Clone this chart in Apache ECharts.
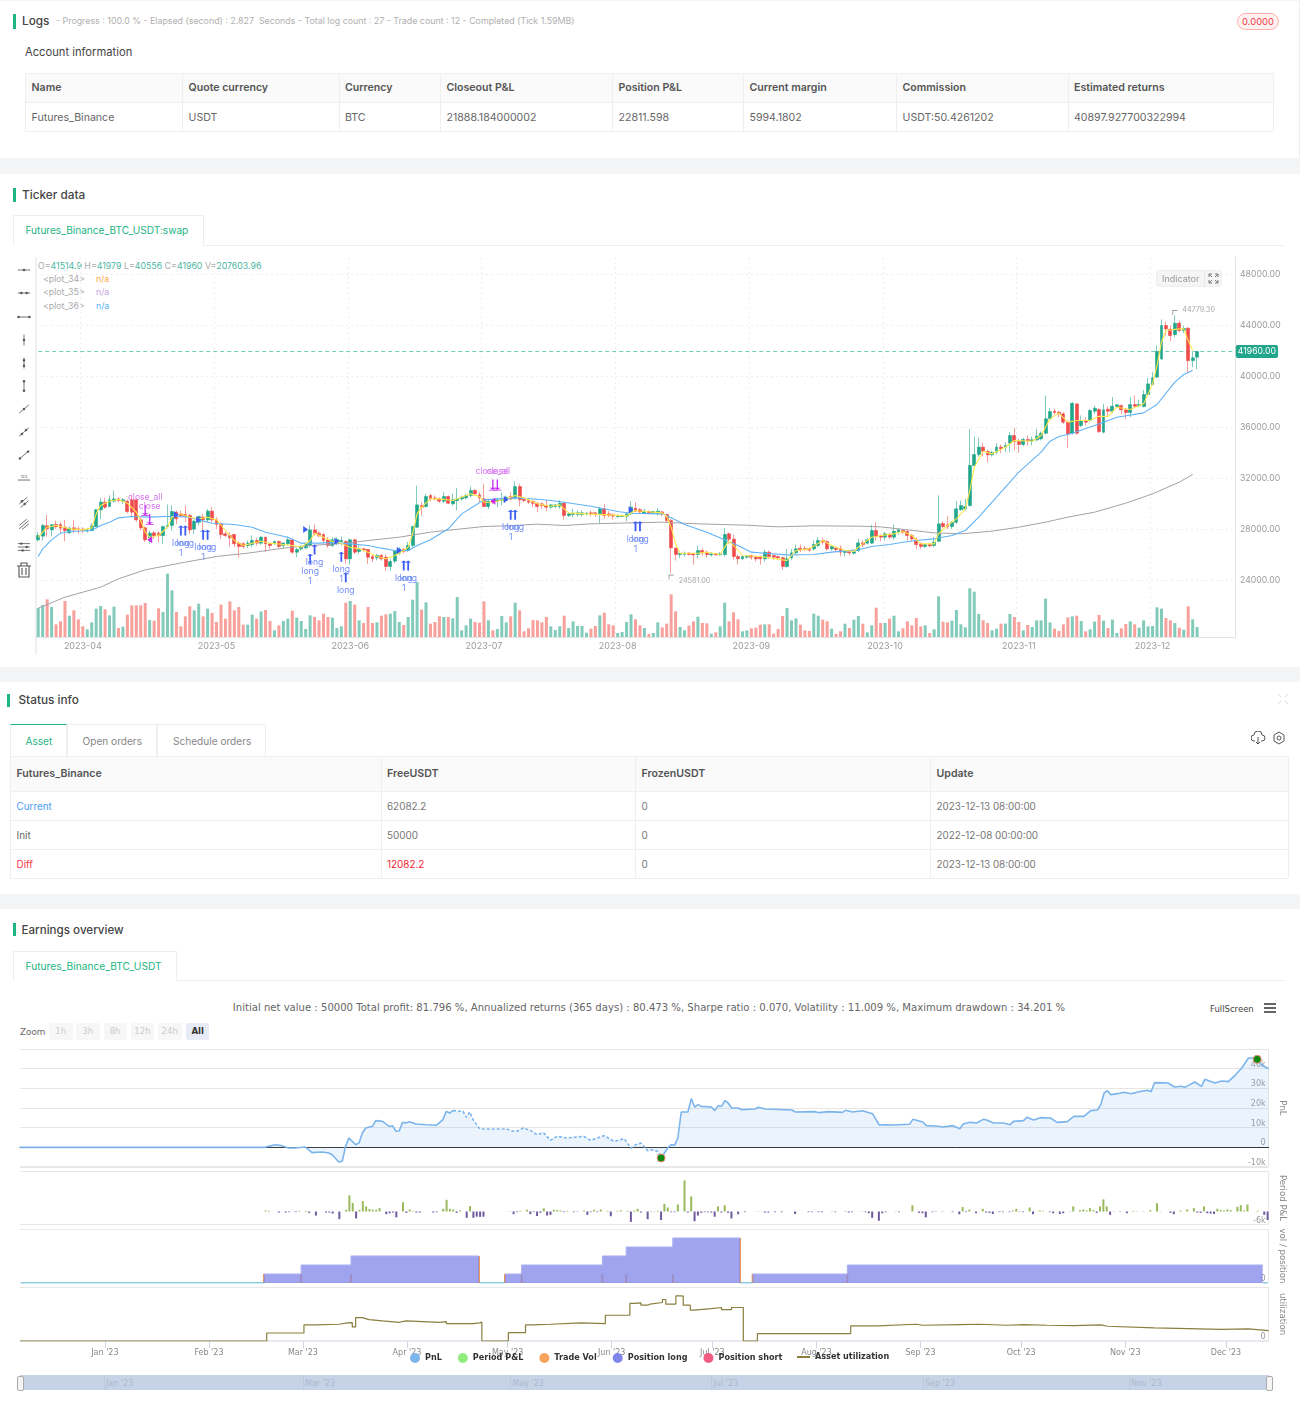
<!DOCTYPE html>
<html><head><meta charset="utf-8"><title>Backtest</title>
<script src="https://cdn.jsdelivr.net/npm/echarts@6/dist/echarts.min.js"></script>
<style>
html,body{margin:0;padding:0;background:#fff;font-family:Inter,"Noto Sans",sans-serif;color:#555}
#page{position:relative;width:1300px;height:1412px;overflow:hidden}
#chart{position:absolute;left:0;top:0;width:1300px;height:1412px;z-index:2}
.a{position:absolute;white-space:nowrap;line-height:1}
.band{position:absolute;left:0;width:1300px;background:#f4f5f7}
.bar{position:absolute;width:3px;background:#1db584}
.h{font-size:11.8px;font-weight:500;color:#444;transform:translateY(-50%)}
.t{font-size:10.6px;transform:translateY(-50%)}
.line{position:absolute;background:#efefef}
.tab{position:absolute;border:1px solid #eee;border-bottom:0;box-sizing:border-box;background:#fff}
.frame{position:absolute;left:20px;width:1249px;border:1px solid #e8e8e8;border-left:0;box-sizing:border-box}
.btn{position:absolute;top:1023px;height:17px;font:8.6px/17px "DejaVu Sans";text-align:center;background:#f7f7f7;color:#ccc;border-radius:2px}
</style></head><body><div id="page">
<div class="band" style="top:0;height:1px"></div>
<div class="band" style="top:158px;height:16px"></div>
<div class="band" style="top:667px;height:15px"></div>
<div class="band" style="top:894px;height:15px"></div>
<div class="line" style="left:1299px;top:0;width:1px;height:158px"></div>

<div class="bar" style="left:13px;top:14px;height:15px"></div>
<div class="a h" style="left:22px;top:21.5px;font-size:11.8px">Logs</div>
<div class="a t" style="left:56px;top:21px;color:#b0b0b0;font-size:8.85px">- Progress : 100.0 % - Elapsed (second) : 2.827&nbsp; Seconds - Total log count : 27 - Trade count : 12 - Completed (Tick 1.59MB)</div>
<div class="a" style="left:1237px;top:13px;width:42px;height:17px;box-sizing:border-box;border:1px solid #ffb0ad;border-radius:9px;background:#fff1f0;color:#ee3f4d;font-size:9.4px;line-height:15px;text-align:center">0.0000</div>
<div class="a t" style="left:25px;top:53px;font-size:11.2px;color:#444">Account information</div>
<div id="t1"></div>

<div class="bar" style="left:13px;top:188px;height:14px"></div>
<div class="a h" style="left:22px;top:196px">Ticker data</div>
<div class="line" style="left:13px;top:245px;width:1272px;height:1px"></div>
<div class="tab" style="left:13px;top:215px;width:191px;height:31px"></div>
<div class="a t" style="left:25.5px;top:230px;color:#1db584;font-size:10.1px">Futures_Binance_BTC_USDT:swap</div>
<div class="line" style="left:35px;top:257px;width:2px;height:398px;background:#f0f0f0"></div>
<div id="legendTop" class="a" style="left:38px;top:262px;font-size:8.8px;color:#aaa">O=<span style="color:#4db6a5">41514.9</span> H=<span style="color:#4db6a5">41979</span> L=<span style="color:#4db6a5">40556</span> C=<span style="color:#4db6a5">41960</span> V=<span style="color:#4db6a5">207603.96</span></div>
<div class="a" style="left:43px;top:275px;font-size:8.8px;color:#aaa">&lt;plot_34&gt;</div><div class="a" style="left:96px;top:275px;font-size:8.8px;color:#ffa94d">n/a</div>
<div class="a" style="left:43px;top:288px;font-size:8.8px;color:#aaa">&lt;plot_35&gt;</div><div class="a" style="left:96px;top:288px;font-size:8.8px;color:#c3a0e6">n/a</div>
<div class="a" style="left:43px;top:301.5px;font-size:8.8px;color:#aaa">&lt;plot_36&gt;</div><div class="a" style="left:96px;top:301.5px;font-size:8.8px;color:#5db4f5">n/a</div>
<div class="a" style="left:1156px;top:270px;width:66px;height:17px;box-sizing:border-box;background:#f5f5f5;border:1px solid #eee;border-radius:3px;z-index:3"></div>
<div class="a" style="left:1162px;top:274px;font-size:9px;color:#999;z-index:3">Indicator</div>
<div class="line" style="left:1204px;top:270px;width:1px;height:17px;background:#e6e6e6;z-index:3"></div>
<svg class="a" style="left:1208px;top:273px;z-index:3" width="11" height="11" fill="none" stroke="#777" stroke-width="1"><path d="M1 1l3 3M1 1h3M1 1v3M10 1l-3 3M10 1H7M10 1v3M1 10l3-3M1 10h3M1 10V7M10 10L7 7M10 10H7M10 10V7"/></svg>
<div id="tools"></div>

<div class="bar" style="left:7px;top:694px;height:13px"></div>
<div class="a h" style="left:18.5px;top:701px">Status info</div>
<svg class="a" style="left:1278px;top:694px" width="10" height="10" fill="none" stroke="#ddd" stroke-width="1"><path d="M0 0l3 3M10 0L7 3M0 10l3-3M10 10L7 7"/></svg>
<div class="tab" style="left:10px;top:724px;width:57px;height:32px;border-top:1px solid #1db584"></div>
<div class="tab" style="left:67px;top:724px;width:90px;height:32px"></div>
<div class="tab" style="left:157px;top:724px;width:109px;height:32px"></div>
<div class="a t" style="left:25.5px;top:741px;color:#1db584;font-size:10.1px">Asset</div>
<div class="a t" style="left:82.5px;top:741px;color:#888;font-size:10.1px">Open orders</div>
<div class="a t" style="left:173px;top:741px;color:#888;font-size:10.1px">Schedule orders</div>
<svg class="a" style="left:1251px;top:731px" width="35" height="14" fill="none" stroke="#555" stroke-width="1"><path d="M4 10H3a3 3 0 0 1 0-6 4 4 0 0 1 8 0 3 3 0 0 1 0 6h-1M7 6v7M5 11l2 2 2-2"/><circle cx="28" cy="7" r="2"/><path d="M28 1l5 3v6l-5 3-5-3V4z"/></svg>
<div id="t2"></div>

<div class="bar" style="left:13px;top:923px;height:13px"></div>
<div class="a h" style="left:21.5px;top:931px;font-size:11.6px">Earnings overview</div>
<div class="line" style="left:13px;top:980px;width:1272px;height:1px"></div>
<div class="tab" style="left:13px;top:951px;width:164px;height:30px"></div>
<div class="a t" style="left:25.5px;top:965.5px;color:#1db584;font-size:10.2px">Futures_Binance_BTC_USDT</div>
<div class="a" style="left:649px;top:1002px;transform:translateX(-50%);font:10.08px 'DejaVu Sans';color:#666">Initial net value : 50000 Total profit: 81.796 %, Annualized returns (365 days) : 80.473 %, Sharpe ratio : 0.070, Volatility : 11.009 %, Maximum drawdown : 34.201 %</div>
<div class="a" style="left:1210px;top:1004px;font:8.5px 'DejaVu Sans';color:#444">FullScreen</div>
<div class="a" style="left:1264px;top:1003px;width:12px;height:2px;background:#666;box-shadow:0 4px 0 #666,0 8px 0 #666"></div>
<div class="a" style="left:20px;top:1027px;font:8.8px 'DejaVu Sans';color:#666">Zoom</div>
<div id="btns"></div>
<div class="frame" style="top:1049px;height:118px"></div>
<div class="frame" style="top:1171px;height:54px"></div>
<div class="frame" style="top:1229px;height:54px"></div>
<div class="frame" style="top:1287px;height:54px"></div>
<div class="a" style="left:20px;top:1375px;width:1249px;height:15px;background:#c6d3e6"></div>
<div class="a" style="left:16.5px;top:1376px;width:5px;height:13px;background:#f5f5f5;border:1px solid #aaa;border-radius:2px;z-index:3"></div>
<div class="a" style="left:1265.5px;top:1376px;width:5px;height:13px;background:#f5f5f5;border:1px solid #aaa;border-radius:2px;z-index:3"></div>
<div id="nav"></div>

<div id="chart"></div>
</div>
<script>
// ---------- table text ----------
const accountHead=['Name','Quote currency','Currency','Closeout P&L','Position P&L','Current margin','Commission','Estimated returns'];
const accountRow=['Futures_Binance','USDT','BTC','21888.184000002','22811.598','5994.1802','USDT:50.4261202','40897.927700322994'];
const statusHead=['Futures_Binance','FreeUSDT','FrozenUSDT','Update'];
const statusRows=[['Current','62082.2','0','2023-12-13 08:00:00'],['Init','50000','0','2022-12-08 00:00:00'],['Diff','12082.2','0','2023-12-13 08:00:00']];
const navLabels=["Jan '23","Mar '23","May '23","Jul '23","Sep '23","Nov '23"];
const zoomButtons=['1h','3h','8h','12h','24h','All'];

// ---------- price chart: [open, high, low, close] per bar ----------
const candles=[
[27190,27790,27060,27530],[27480,28440,27140,28310],[28290,29150,27450,28050],[27970,28440,27450,28370],[28390,28700,28050,28210],
[28390,28570,27740,28100],[28180,28760,27080,27920],[27740,28230,27660,28100],[28130,28760,27710,27970],[28050,28230,27660,27970],
[28030,28180,27710,27920],[27900,28130,27760,27970],[27920,28500,27840,28290],[28230,29620,28180,29540],[29540,30480,28840,30140],
[30140,30480,29620,29750],[29800,30670,29750,30330],[30220,31060,30140,30400],[30400,30530,30140,30270],[30220,30480,30010,30330],
[30220,30350,29280,29410],[30330,30670,28970,29360],[30330,30480,28600,28760],[28760,28970,27920,28130],[28130,28230,27010,27190],
[27350,27920,26880,27710],[27740,27870,27240,27500],[27710,27870,27000,27530],[27530,28310,26880,28230],[28230,29960,28100,28310],
[28310,29880,27920,29410],[29360,29490,28440,28840],[29230,29490,28970,29100],[29180,29880,28570,29020],[29100,29230,27660,27970],
[28030,28760,27660,28650],[28570,29100,28300,29020],[28970,29230,27970,28760],[28760,29620,28570,29440],[29440,29750,28570,28760],
[28760,28970,28050,28390],[28440,28570,27270,27610],[27660,27820,27400,27530],[27530,27790,26670,27350],[27610,27610,26610,26880],
[26930,27080,25780,26670],[26880,27010,26480,26670],[26750,27140,26560,26930],[26820,27530,26610,27140],[27140,27320,26740,26930],
[26930,27480,26800,27400],[27400,27400,26220,26880],[26880,26930,26480,26750],[26880,27140,26800,27060],[27060,27140,26560,26670],
[26750,27010,26480,26930],[26880,27450,26750,27190],[27190,27270,26090,26220],[26220,26540,25830,26430],[26480,26750,26350,26670],
[26560,26930,26430,26880],[26750,28310,26610,27970],[27970,28390,27530,27660],[27710,27870,27400,27500],[27610,27710,26880,27140],
[27190,27400,26560,26750],[26750,27400,26610,27190],[26880,27400,26800,27220],[27060,27450,26750,27140],[27060,27140,25310,25700],
[25700,27270,25250,27190],[27190,27270,26090,26220],[26270,26750,26090,26480],[26480,26560,26270,26400],[26430,26480,25310,25830],
[25880,26010,25440,25700],[25780,26090,25570,25960],[25960,26090,25570,25700],[25830,26040,24730,25100],[25100,25700,24730,25490],
[25520,26350,25360,26300],[26140,26610,26010,26480],[26430,26540,26140,26300],[26350,27010,26220,26750],[26750,28310,26610,28230],
[28180,31450,28130,29930],[29880,30140,29100,29750],[29800,30800,29750,30590],[30670,30800,30220,30400],[30480,30670,30270,30400],
[30400,30530,30090,30220],[30220,30930,30060,30590],[30590,30670,30010,30060],[30010,30800,29880,30330],[30270,31270,29490,30400],
[30400,30670,30270,30530],[30480,30800,30350,30670],[30670,31370,30530,31060],[31060,31190,30670,30800],[30720,30930,30140,30480],
[30400,31580,29750,29800],[29800,30400,29620,30220],[30270,30400,30010,30140],[30220,30480,29750,30330],[30270,30930,29880,30400],
[30330,30670,30140,30530],[30590,30930,30270,30400],[30480,31790,30330,31370],[31370,31580,29800,30330],[30350,30400,30140,30270],
[30270,30400,30010,30140],[30220,30270,29750,30060],[30060,30140,29360,29800],[30010,30140,29620,29880],[29880,30330,29440,29750],
[29750,30010,29620,29930],[29800,30010,29670,29930],[29800,30330,29620,30060],[30060,30140,28760,29100],[29100,29360,28970,29230],
[29180,29620,28970,29280],[29180,29490,29020,29310],[29180,29490,29020,29310],[29230,29360,29100,29280],[29310,29490,29020,29230],
[29310,29360,28970,29230],[29180,29750,28500,29620],[29620,30010,28840,29100],[29230,29440,28970,29100],[29150,29280,28760,29050],
[29020,29180,28890,29100],[29020,29180,28970,29100],[29050,29280,28650,29230],[29230,30220,29100,29750],[29670,30140,29360,29440],
[29570,29670,29280,29380],[29280,29620,29230,29440],[29410,29490,29180,29280],[29280,29490,29180,29410],[29230,29670,29100,29440],
[29380,29440,29020,29230],[29180,29230,28570,28700],[28700,28840,24581,26560],[26540,26610,25570,26040],[26040,26220,25780,26140],
[26060,26270,25880,26140],[26140,26220,25960,26040],[26090,26140,25250,26010],[26040,26740,25780,26350],[26350,26540,25960,26170],
[26220,26350,25780,26040],[26010,26220,25880,26090],[26090,26170,25960,26010],[26010,26220,25960,26090],[26040,28130,25880,27610],
[27660,27770,26880,27240],[27240,27610,25620,25880],[25880,26040,25250,25700],[25700,25960,25620,25880],[25830,26010,25700,25910],
[25960,26040,25620,25830],[25830,25960,25490,25700],[25830,25960,25250,25700],[25700,26400,25490,26220],[26220,26350,25700,25880],
[25960,26090,25620,25830],[25880,25960,25620,25780],[25780,25880,24840,25100],[25100,26480,25000,25700],[25780,26480,25620,26170],
[26170,26820,26040,26480],[26530,26820,26220,26400],[26510,26690,26300,26430],[26510,26600,26250,26380],[26480,27140,26350,26820],
[26750,27400,26610,27140],[27140,27350,26820,27010],[27060,27140,26350,26480],[26480,26750,26350,26670],[26540,26610,26270,26430],
[26540,26750,25880,26220],[26200,26400,25880,26300],[26270,26350,25960,26170],[26140,26430,26040,26270],[26350,27270,26220,26950],
[26950,27140,26610,26820],[26930,27320,26820,27190],[26930,28370,26880,27920],[27920,28570,27140,27450],[27500,27660,27080,27400],
[27400,27790,27140,27660],[27630,27740,27270,27400],[27400,28390,27190,27870],[27790,28130,27610,27970],[27920,28050,27660,27790],
[27840,27970,27140,27530],[27530,27660,27080,27270],[27190,27400,26480,26820],[26880,27010,26480,26670],[26670,26880,26560,26820],
[26820,26930,26610,26720],[26750,27400,26610,27010],[27080,30670,27010,28440],[28470,28650,28100,28230],[28370,29050,28050,28230],
[28230,28650,28050,28570],[28570,30220,28440,29620],[29540,30270,29490,29880],[29620,30400,29490,29800],[29880,35890,29800,33020],
[33020,35290,32890,33880],[33880,35190,33720,34460],[34460,34770,33720,34120],[34120,34250,33280,33860],[33860,34170,33720,34040],
[34070,34770,33880,34460],[34460,34670,33990,34330],[34460,34850,34070,34590],[34770,35630,34070,35370],[35370,35970,34200,34900],
[34900,35110,34010,34670],[34670,35190,34540,35060],[35060,35370,34590,34980],[34930,35290,34590,35030],[35030,35890,34930,35320],
[35110,35680,34980,35550],[35550,38510,35450,36680],[36680,37540,36550,37250],[37280,37460,37020,37170],[37200,37300,36800,37070],
[37070,37200,36290,36420],[36420,36550,34400,35500],[35550,37980,35450,37900],[37850,37900,35450,35550],[36160,36940,36020,36550],
[36550,36800,36160,36420],[36550,37460,36420,37330],[37280,37720,37070,37510],[37410,37510,35550,35680],[35630,37850,35550,37380],
[37430,37640,36940,37280],[37280,38380,37120,37670],[37640,37850,37590,37780],[37720,37800,37070,37380],[37380,37540,36680,37170],
[37170,38380,36810,37800],[37800,38510,37540,37670],[37700,38170,37590,37800],[37640,38950,37590,38590],[38590,39890,38430,39420],
[39370,40340,39290,39890],[39950,42430,39890,41960],[41380,44470,41300,44000],[44000,44310,43210,43740],[43710,44000,42770,43210],
[43290,44779.3,43080,44180],[44180,44390,43480,43610],[43610,44000,43400,43770],[43790,43870,40260,41250],[41250,41980,40730,41460],
[41514.9,41979,40556,41960]];
const volumeReadings=[
87,96,113,90,38,47,108,64,80,53, 32,23,44,85,93,83,65,91,27,31, 67,95,95,95,102,51,49,86,75,190,
140,75,32,62,92,80,100,62,85,72, 45,97,55,107,80,90,37,37,67,55, 77,81,48,20,35,48,55,79,58,48,
24,65,60,50,70,60,58,27,32,103, 108,97,50,42,90,42,44,64,68,70, 78,45,36,60,112,165,82,104,40,
45,62,60,60,56,120,20,35,55,45, 43,107,50,20,24,63,44,62,103,80, 17,26,51,50,44,60,32,21,32,64,
27,47,33,33,13,25,33,65,73,38, 35,12,15,45,68,53,35,27,9,12, 44,29,40,128,77,30,20,34,47,61,
42,41,10,14,32,103,47,74,53,17, 20,26,28,37,38,38,10,24,63,87, 50,56,37,20,18,70,64,52,47,25,
9,17,40,27,52,63,
40,14,35,88,42,42,55,64,17,26, 47,35,57,32,35,12,23,122,46,44, 49,81,38,29,146,136,69,50,42,20,
25,40,40,69,60,45,20,36,30,50, 50,115,44,25,18,38,59,62,64,48, 17,23,46,66,49,27,52,12,26,39,
47,38,28,50,32,33,89,85,57,50, 42,28,22,92,53,30];
const monthLabels=['2023-04','2023-05','2023-06','2023-07','2023-08','2023-09','2023-10','2023-11','2023-12'];
const priceTicks=[24000,48000,4000];
const lastPrice=41960;
// [bar, price]
const plot34=[[0,27398],[2,28182],[4,28313],[7,28052],[10,27973],[12,28130],[13,29228],[14,29882],[16,30221],[18,30352],[20,30065],[22,29359],[23,28705],[24,27790],[25,27398],[27,27529],[29,28182],[30,28967],[32,29228],[34,28967],[36,28836],[38,28967],[40,28757],[42,27921],[44,27137],[46,26745],[48,26928],[50,27085],[52,26928],[55,26823],[57,26745],[59,26614],[61,27137],[62,27712],[64,27398],[66,27058],[68,26928],[69,26745],[70,26614],[72,26483],[74,26222],[76,25882],[78,25701],[80,25961],[82,26353],[83,26614],[84,27660],[85,29228],[86,29751],[88,30404],
[90,30404],[93,30274],[97,30796],[99,30587],[100,30143],[102,30143],[105,30404],[107,30665],[109,30483],[112,30012],[115,29829],[117,29934],[118,29620],[119,29306],[123,29228],[128,29150],[132,29071],[134,29489],[138,29359],[140,29306],[141,29019],[142,28182],[143,26875],[144,26143],[148,26143],[150,26222],[153,26039],[154,26614],[155,27085],[156,26745],[158,25961],[162,25882],[167,25621],[168,25568],[170,26353],[173,26483],[176,27137],[178,26745],[181,26353],[183,26274],[184,26614],
[187,27398],[189,27529],[192,27660],[194,27843],[196,27529],[198,26875],[201,26875],[202,27660],[204,28313],[206,28836],[208,29620],[209,31058],[210,32888],[212,34142],[214,33933],[217,34456],[219,34979],[223,34927],[225,35371],[227,36678],[229,37122],[231,36417],[233,36547],[236,36547],[238,36887],[240,36861],[242,37593],[245,37410],[248,37854],[250,39423],[251,40860],[252,42690],[253,43605],[256,43736],[257,43736],[258,42821],[259,42037]];
const plot35=[[0,21830],[6,22693],[14,23477],[18,24131],[24,24836],[33,25438],[40,25882],[47,26143],[55,26536],[61,26745],[69,26928],[74,27137],[81,27398],[88,27790],[95,28052],[100,28235],[105,28287],[112,28418],[118,28313],[124,28444],[133,28522],[140,28575],[148,28444],[159,28339],[166,28208],[174,28287],[184,28261],[189,28208],[195,27973],[201,27738],[207,27660],[214,27869],[220,28183],[226,28575],[231,28967],[237,29359],[244,30065],[250,30796],[256,31711],[259,32313]];
const plot36=[[0,25882],[1,26483],[3,27189],[5,27712],[7,27843],[12,27921],[14,28313],[16,28575],[18,28914],[21,29019],[25,28967],[30,29045],[34,28967],[36,28757],[39,28496],[44,28392],[48,28182],[51,27790],[56,27398],[59,26928],[63,26928],[66,26980],[70,26875],[74,26745],[77,26536],[80,26353],[83,26353],[85,26745],[88,27189],[92,28052],[95,29228],[98,29882],[100,30326],[103,30404],[107,30483],[113,30352],[118,30143],[124,29829],[130,29411],[133,29280],[140,29228],[142,28914],[145,28392],[150,27790],[154,27189],[157,26745],[160,26222],[163,26143],[168,26012],[174,26039],[178,26222],[184,26405],[187,26666],[191,26823],[194,27006],[197,27137],[201,27268],[205,27529],[208,27921],[211,28967],[214,30143],[220,32496],[225,34064],[227,34927],[229,35292],[232,35554],[237,36155],[242,36809],[248,37149],[251,37802],[255,39553],[257,40154],[259,40468]];
// trade marks: [bar, price, label]
const longArrows=[[32,27921,'long\n1'],[33,27921,'long'],[37,27581,'long\n1'],[38,27581,'long'],[61,25700,'long\n1'],[62,26430,'long'],[68,25856,'long\n1'],[69,24261,'long'],[82,25176,'long\n1'],[83,25176,'long'],[106,29150,'long\n1'],[107,29150,'long'],[134,28261,'long\n1'],[135,28261,'long']];
const closeArrows=[[24,29490,'close_all'],[25,28780,'close'],[102,31500,'close_all'],[103,31500,'close']];
const entryTriangles=[[31,29150],[36,28757],[60,28000],[67,27085],[81,26353],[105,30352],[133,29540]];
const exitTriangles=[[25,27190],[102,30221]];
const extremes=[[255,44779.3,'44779.30'],[142,24581,'24581.00']];

// ---------- earnings chart: [day since start, value] ----------
const pnlPoints=[[0,0],[73,0],[74,500],[76,1350],[78,850],[80,-340],[82,-340],[85,170],[87,-2700],[90,-2370],[92,-2880],[93,-3730],[95,-7460],[96,-7120],[97,500],[98,4750],[100,1360],[101,2200],[102,7290],[103,9830],[105,10680],[106,13560],[108,13220],[110,10680],[111,11000],[112,8140],[113,8475],[114,12700],[115,12370],[116,13050],[118,11870],[121,11520],[124,11190],[126,14070],[127,18300],[128,17460],[129,18650],[132,18300],[133,15250],[134,17970],[135,14070],[137,9320],[145,9320],[147,8140],[148,8140],[150,9830],[152,8645],[154,6440],[156,7460],[158,3560],[160,5590],[163,4750],[168,5590],[170,3560],[174,5930],[177,3050],[180,4400],[182,-340],[183,1020],[185,2200],[187,-1700],[188,-1190],[190,-2030],[191,-5420],[193,-340],[194,1360],[195,1020],[196,4750],[197,17970],[199,17970],[200,24750],[201,20510],[202,21700],[203,20850],[206,20510],[207,18650],[208,21190],[209,20850],[210,23730],[211,22540],[212,20000],[214,20000],[215,19150],[219,19490],[220,20340],[222,19490],[230,18980],[231,17970],[237,18140],[238,17630],[241,18140],[245,17800],[246,18810],[248,17970],[251,18640],[254,17120],[256,11360],[258,11520],[260,11360],[265,11700],[266,14240],[269,12880],[270,11020],[273,10850],[275,10340],[278,11020],[280,9490],[281,11870],[283,12710],[285,12370],[287,14240],[288,13900],[290,12370],[293,12370],[295,11520],[296,13220],[299,13560],[300,15250],[302,13900],[304,15090],[307,14920],[309,12710],[312,13050],[314,15760],[317,15760],[319,18650],[321,18980],[322,21700],[323,27630],[324,28815],[325,26780],[327,27290],[329,27970],[331,27290],[333,28140],[336,28985],[337,28310],[338,32880],[342,32710],[344,30680],[346,31020],[347,30510],[348,31360],[350,33220],[352,31020],[353,34580],[356,32710],[358,33730],[360,33390],[362,36610],[364,40340],[366,45430],[368,45430],[370,41700],[372,40000]];
const pnlExtremes=[[191,-5420],[368.6,44750]];
const periodPnl=[[73,460],[74,300],[77,-460],[79,-460],[80,-300],[82,-300],[83,300],[85,300],[86,-600],[88,-1800],[91,-460],[92,-460],[93,-900],[95,-3400],[97,770],[98,7200],[99,3800],[100,-3100],[101,770],[102,4600],[103,2300],[104,1100],[105,770],[106,770],[107,1500],[109,-1200],[110,-770],[111,-460],[112,-2600],[114,4100],[115,-600],[116,900],[117,300],[118,-460],[119,-460],[123,-460],[124,-300],[126,1200],[127,5200],[128,1200],[129,900],[130,-600],[131,460],[133,-2800],[134,2400],[135,-2800],[136,-2300],[137,-2400],[138,-2300],[146,150],[147,-1200],[148,-300],[149,300],[151,770],[152,-1200],[153,-300],[154,-2000],[155,-600],[156,1400],[157,-1800],[158,-1500],[159,770],[160,600],[161,460],[162,-300],[163,300],[165,-300],[166,-150],[168,460],[169,-1500],[170,-300],[171,770],[172,-300],[173,900],[175,300],[176,-2100],[178,300],[179,460],[181,300],[182,-4600],[183,460],[184,1200],[185,-460],[187,-3400],
[188,-150],[189,150],[190,300],[191,-3800],[192,3400],[193,1800],[194,-300],[195,-300],[196,3100],[198,13800],[199,-460],[200,6700],[201,-4300],[202,-1800],[203,-600],[204,-300],[205,-300],[206,-460],[207,-2300],[208,2300],[209,-460],[210,2800],[211,-600],[212,-3100],[214,-1200],[216,-300],[220,150],[221,150],[222,-460],[223,-460],[225,-300],[227,-300],[231,-1100],[235,-300],[236,-300],[238,-300],[239,-300],[242,150],[243,-300],[246,300],[247,-460],[248,-300],[251,150],[252,-300],[253,-770],[254,-2800],[256,-4100],[257,-770],[258,-300],[261,150],[262,-300],[266,2800],[268,-600],[269,-770],[270,-2600],[272,-300],[273,-150],[275,-150],[278,-300],[280,-1200],[281,2000],[282,-300],[283,900],[285,-770],[287,1200],[288,-460],[289,-600],[290,-1100],[292,-300],[293,-300],[295,-300],[296,460],[297,1200],[298,-150],[299,-300],[301,1800],[302,-1200],[304,460],[305,300],[307,-300],[308,-770],[310,-1100],[311,-770],[313,150],[314,2300],[316,600],[317,900],[318,460],[319,1500],[320,600],[321,-600],[322,2300],[323,5400],[324,2300],[325,-1500],[326,150],[328,-150],[330,-770],[332,300],[333,150],[335,150],[337,600],[339,3700],[340,150],[343,-600],[344,-1200],[346,460],[348,900],[350,1500],[351,-460],[352,-600],[353,2300],[354,-770],[355,-900],[356,-1100],[357,1200],[358,600],[359,460],[360,900],[361,600],[363,2100],[364,2800],[365,460],[366,3100],[369,300],[371,-1500],[372,-3800]];
const positionLong=[[72.5,1],[83.6,2],[98.5,3],[136.7,null],[144.4,1],[149.4,2],[173.5,3],[180.6,4],[194.5,5],[214.6,null],[218.3,1],[246.6,2],[370.5,2]];
const positionFlat=[[0,0],[72.5,0],[72.6,null],[136.7,0],[144.4,0],[144.5,null],[214.6,0],[218.3,0],[218.4,null],[370.5,0],[372,0]];
const tradeVol=[[72.5,1],[83.6,1],[98.5,1],[136.7,3],[144.4,1],[149.4,1],[173.5,1],[180.6,1],[194.5,1],[214.6,5],[218.3,1],[246.6,1]];
const utilization=[[0,0],[73.5,8.9],[84.6,17.9],[88,18.6],[95,20.1],[97.6,20.5],[99,15.6],[100,26],[102,23.8],[104,22.3],[108,20.8],[113,22.3],[115,20.8],[125,21.6],[127,19.3],[133,19.3],[135,20.1],[137,21.2],[137.6,0],[145.5,9.3],[150.6,17.9],[153,18.6],[158,20.1],[167,19.3],[174.4,28.6],[181.7,41.7],[183,42.4],[185,39.8],[187,40.9],[187.7,42.8],[191.4,46.1],[192.4,40.9],[195.4,50.2],[197,49.9],[197.6,39.8],[199.7,34.2],[200.7,36],[206,37.2],[209,34.9],[212,37.2],[215.5,0],[219.7,8.2],[247.5,16.7],[255.6,18.6],[267,17.5],[269,18.2],[280,18.6],[286,17.5],[294,18.2],[299,17.5],[306,17.1],[314,17.9],[322,16.4],[324,14.5],[338,13],[358,13.4],[366,11.5],[372,11.9]];
const dayLabels=['Jan',"Feb",'Mar','Apr','May','Jun','Jul','Aug','Sep','Oct','Nov','Dec'];

// ---------- chrome ----------
const el=(id,h)=>document.getElementById(id).insertAdjacentHTML('beforeend',h);
const line=(x,y,w,h,c)=>`<div class="line" style="left:${x}px;top:${y}px;width:${w}px;height:${h}px;background:${c||'#efefef'}"></div>`;
const accX=[25,182,338.5,440,612,743,896,1067.5,1273];
el('t1',`<div class="a" style="left:25px;top:73px;width:1248px;height:29px;background:#fafafa"></div>`);
[73,102,131].forEach(y=>el('t1',line(25,y,1248,1)));
accX.forEach(x=>el('t1',line(x,73,1,58)));
accountHead.forEach((s,i)=>el('t1',`<div class="a t" style="left:${accX[i]+6.5}px;top:88px;font-weight:600;color:#555">${s.replace('&','&amp;')}</div>`));
accountRow.forEach((s,i)=>el('t1',`<div class="a t" style="left:${accX[i]+6.5}px;top:117.5px;color:#666">${s}</div>`));
const stX=[10,380.5,635,930,1288];
el('t2',`<div class="a" style="left:10px;top:756px;width:1278px;height:35px;background:#fafafa"></div>`);
[756,791,820,849,878].forEach(y=>el('t2',line(10,y,1278,1)));
stX.forEach(x=>el('t2',line(x,756,1,122)));
statusHead.forEach((s,i)=>el('t2',`<div class="a t" style="left:${stX[i]+6.5}px;top:774px;font-weight:600;color:#555">${s}</div>`));
const rowC=['#4a9bf5','#666','#f5364a'];
statusRows.forEach((r,j)=>r.forEach((s,i)=>{
  const c=i==0?rowC[j]:(i==1&&j==2?'#f5222d':'#777');
  el('t2',`<div class="a t" style="left:${stX[i]+6.5}px;top:${806.5+j*29}px;color:${c};font-size:9.9px">${s}</div>`);
}));
const btnX=[[49,23.5],[76,23.5],[103.6,23],[131,23],[158,23.6],[186,23.4]];
zoomButtons.forEach((s,i)=>el('btns',`<div class="btn" style="left:${btnX[i][0]}px;width:${btnX[i][1]}px;${s=='All'?'background:#e6ebf5;color:#333;font-weight:700':''}">${s}</div>`));
const navX=[106,305,512.5,713.5,925,1131];
navLabels.forEach((s,i)=>{el('nav',`<div class="a" style="left:${navX[i]}px;top:1379px;font:8px 'DejaVu Sans';color:#abb9cf">${s}</div>`);
  el('nav',line(navX[i]-2.5,1375,1,15,'#bccadf'))});
// left drawing toolbar
const toolIcons=['M-9 0H9','M-9 0H9','M-9 0H9','M0 -8V8','M0 -8V8','M0 -8V8','M-7 6L7 -6','M-7 6L7 -6','M-7 6L7 -6','M-9 3H9','M-7 3L5 -7M-5 8L7 -2','M-7 2L4 -7M-7 7L7 -5M-3 8L7 0','M-9 -5H9M-9 0H9M-9 5H9',''];
const toolDots=[[[0,0]],[[-4,0],[4,0]],[[-8,0],[8,0]],[[0,0]],[[0,-4],[0,4]],[[0,-7],[0,7]],[[0,0]],[[-3,3],[3,-3]],[[-6,5],[6,-5]],[],[[-3,-1],[1,3]],[],[[-4,-5],[4,0],[-2,5]],[]];
const toolY=[270,293,317,340,363,386,409,432,455,478,502,524,547,570];
toolIcons.forEach((p,i)=>{
  let inner=`<path d="${p}" stroke="#555" stroke-width="1.2" fill="none"/>`+toolDots[i].map(d=>`<circle cx="${d[0]}" cy="${d[1]}" r="1.8" fill="#555"/>`).join('');
  if(i==9) inner+=`<text x="0" y="0" font-size="6" text-anchor="middle" fill="#555">123</text>`;
  inner=`<g transform="scale(0.68)">${inner}</g>`;
  if(i==13) inner=`<path d="M-5 -4H5M-3 -4V-7H3V-4M-5 -4V7H5V-4M-2 -2V5M2 -2V5M-7 -4H7" stroke="#555" stroke-width="1.1" fill="none"/>`;
  el('tools',`<svg class="a" style="left:12px;top:${toolY[i]-10}px" width="24" height="20" viewBox="-12 -10 24 20">${inner}</svg>`);
});

// ---------- ECharts ----------
const BAR_COUNT=269, TIME0=Date.UTC(2022,11,6,17), DAY=864e5, toT=d=>TIME0+d*DAY;
const UP='#22a68b',DOWN='#ef4b4b',UP_L='#7fcbbd',DOWN_L='#f79c98';
const isLabelBar=i=>i>=10&&i<=250&&(i-10)%30===0;
const categories=Array.from({length:BAR_COUNT},(_,i)=>isLabelBar(i)?monthLabels[(i-10)/30]:'b'+i);
const barDir=c=>c[3]>=c[0];
const FONT='Inter';
const pts=a=>a.map(p=>[toT(p[0]),p[1]]);
const pnlA=pnlPoints.filter(p=>p[0]<=129), pnlB=pnlPoints.filter(p=>p[0]>=129&&p[0]<=191), pnlC=pnlPoints.filter(p=>p[0]>=191);
const pnlLine=(data,dashed)=>({name:'PnL',type:'line',xAxisIndex:2,yAxisIndex:2,data:pts(data),showSymbol:false,symbol:'none',z:3,
  lineStyle:{color:'#7cb5ec',width:1.6,type:dashed?[3,2]:'solid'},itemStyle:{color:'#7cb5ec'},areaStyle:{color:'rgba(124,181,236,0.22)',origin:0}});
const earnGrids=[[1049,118],[1171,54],[1229,54],[1287,54]];
const timeAxis=(i,extra)=>Object.assign({type:'time',gridIndex:i+2,min:toT(0),max:toT(372),axisLabel:{show:false},axisTick:{show:false},splitLine:{show:false},axisLine:{show:false}},extra||{});
const yLabel=(f)=>({inside:true,color:'#999',fontFamily:'DejaVu Sans',fontSize:8,verticalAlign:'bottom',margin:3,formatter:f});
const earnY=(i,o)=>Object.assign({type:'value',gridIndex:i+2,position:'right',nameLocation:'middle',nameRotate:-90,nameGap:5,
  nameTextStyle:{color:'#888',fontFamily:'DejaVu Sans',fontSize:8.6},
  axisLine:{show:false},axisTick:{show:false},splitLine:{show:false}},o);
const zeroOnly=v=>v===0?'0':'';
const chart=echarts.init(document.getElementById('chart'),null,{renderer:'canvas'});
chart.setOption({
  animation:false,useUTC:true,backgroundColor:'transparent',textStyle:{fontFamily:FONT},
  grid:[{left:36,width:1199,top:257,height:380},{left:36,width:1199,top:274.5,height:306},
    ...earnGrids.map(g=>({left:20,width:1248.6,top:g[0],height:g[1]}))],
  legend:[{left:405,top:1348,itemWidth:10,itemHeight:10,itemGap:16,icon:'circle',
      data:[{name:'PnL',itemStyle:{color:'#7cb5ec'}},{name:'Period P&L',itemStyle:{color:'#90ed7d'}},{name:'Trade Vol',itemStyle:{color:'#f7a35c'}},{name:'Position long',itemStyle:{color:'#8085e9'}},{name:'Position short',itemStyle:{color:'#f15c80'}}],
      selectedMode:false,textStyle:{fontFamily:'DejaVu Sans',fontWeight:'bold',fontSize:8.1,color:'#333'}},
    {left:792,top:1348,itemWidth:13,itemHeight:2,icon:'rect',data:[{name:'Asset utilization',itemStyle:{color:'#8a7e3e'}}],selectedMode:false,
      textStyle:{fontFamily:'DejaVu Sans',fontWeight:'bold',fontSize:8.1,color:'#333'}}],
  xAxis:[
    {type:'category',gridIndex:0,data:categories,boundaryGap:true,axisLine:{lineStyle:{color:'#e3e3e3'}},axisTick:{show:false,alignWithLabel:true},
     axisLabel:{interval:(i)=>isLabelBar(i),color:'#9a9a9a',fontSize:9,margin:5},
     splitLine:{show:true,interval:(i)=>isLabelBar(i),lineStyle:{color:'#eeeeee',type:[2,3]}}},
    {type:'category',gridIndex:1,data:categories,boundaryGap:true,show:false},
    timeAxis(0,{axisLine:{show:true,onZero:true,lineStyle:{color:'#333',width:1}}}),
    timeAxis(1),timeAxis(2),
    timeAxis(3,{axisLine:{show:true,lineStyle:{color:'#e6e9f5',width:1}},axisTick:{show:true,length:7,lineStyle:{color:'#ccd6eb'}},
      splitNumber:12,minInterval:28*DAY,
      axisLabel:{show:true,color:'#888',fontFamily:'DejaVu Sans',fontSize:8,margin:8,formatter:(v)=>{const d=new Date(v);return dayLabels[d.getUTCMonth()]+" '"+String(d.getUTCFullYear()).slice(2)}}})
  ],
  yAxis:[
    {type:'value',gridIndex:0,position:'right',min:0,max:7889,axisLabel:{show:false},axisTick:{show:false},splitLine:{show:false},axisLine:{show:true,lineStyle:{color:'#e3e3e3'}}},
    {type:'value',gridIndex:1,position:'right',min:priceTicks[0],max:priceTicks[1],interval:priceTicks[2],axisLine:{show:false},axisTick:{show:false},
     axisLabel:{color:'#9a9a9a',fontSize:8.7,margin:5,formatter:v=>v.toFixed(2)},splitLine:{lineStyle:{color:'#eeeeee',type:[2,3]}}},
    earnY(0,{min:-10000,max:50000,interval:10000,name:'PnL',splitLine:{show:true,lineStyle:{color:'#e6e6e6'}},axisLabel:yLabel(v=>v==50000?'':v==0?'0':(v/1000)+'k')}),
    earnY(1,{min:-6000,max:18000,interval:6000,name:'Period P&L',axisLabel:yLabel(v=>v==-6000?'-6k':'')}),
    earnY(2,{min:0,max:6,interval:6,name:'vol / position',axisLabel:yLabel(zeroOnly)}),
    earnY(3,{min:0,max:60,interval:60,name:'utilization',axisLabel:yLabel(zeroOnly)})
  ],
  series:[
    {name:'Volume',type:'bar',xAxisIndex:0,yAxisIndex:0,barWidth:3,z:1,
     data:volumeReadings.map((h,i)=>({value:h*6.92,itemStyle:{color:barDir(candles[i])?'#82cbbb':'#f8a09b'}}))},
    {name:'Last price',type:'line',xAxisIndex:1,yAxisIndex:1,symbol:'none',z:1,data:[[0,lastPrice],[BAR_COUNT-1,lastPrice]],
     lineStyle:{color:'#6fd0bf',type:[4,3],width:1},clip:false,
     endLabel:{show:true,distance:3,formatter:()=>lastPrice.toFixed(2),color:'#fff',backgroundColor:'#22a68b',fontSize:8.7,padding:[2,2,2,2],borderRadius:2}},
    {name:'Wick',type:'candlestick',xAxisIndex:1,yAxisIndex:1,barWidth:1,z:2,
     data:candles.map(c=>[c[0],c[3],c[2],c[1]]),itemStyle:{color:UP_L,color0:DOWN_L,borderColor:UP_L,borderColor0:DOWN_L,borderWidth:1}},
    {name:'Body',type:'candlestick',xAxisIndex:1,yAxisIndex:1,barWidth:3.4,z:3,
     data:candles.map(c=>[c[0],c[3],Math.min(c[0],c[3]),Math.max(c[0],c[3])]),itemStyle:{color:UP,color0:DOWN,borderColor:UP,borderColor0:DOWN,borderWidth:0.6}},
    {name:'plot_35',type:'line',xAxisIndex:1,yAxisIndex:1,data:plot35,symbol:'none',clip:false,z:4,lineStyle:{color:'#a5a1a8',width:1}},
    {name:'plot_36',type:'line',xAxisIndex:1,yAxisIndex:1,data:plot36,symbol:'none',z:4,lineStyle:{color:'#61b3f7',width:1.1}},
    {name:'plot_34',type:'line',xAxisIndex:1,yAxisIndex:1,data:plot34,symbol:'none',z:5,lineStyle:{color:'#ffe84d',width:1.1}},
    {name:'long',type:'scatter',xAxisIndex:1,yAxisIndex:1,z:6,
     symbol:'path://M5 0L10 6H6.5V30H3.5V6H0Z',symbolSize:[6,10],itemStyle:{color:'#3b5bf5',opacity:1},
     data:longArrows.map(a=>({value:[a[0],a[1]],label:{show:true,position:'bottom',distance:3,formatter:a[2],color:'#6f8cf7',fontSize:8.6,lineHeight:10}}))},
    {name:'close',type:'scatter',xAxisIndex:1,yAxisIndex:1,z:6,
     symbol:'path://M4 0H6V24H10L5 30L0 24H4ZM-1 30H11V32H-1Z',symbolSize:[8,11],itemStyle:{color:'#c62df0',opacity:1},
     data:closeArrows.map(a=>({value:[a[0],a[1]],label:{show:true,position:'top',distance:3,formatter:a[2],color:'#d877f2',fontSize:8.6}}))},
    {name:'entry',type:'scatter',xAxisIndex:1,yAxisIndex:1,z:6,symbol:'triangle',symbolRotate:-90,symbolSize:[7,5],itemStyle:{color:'#3b5bf5',opacity:1},data:entryTriangles},
    {name:'exit',type:'scatter',xAxisIndex:1,yAxisIndex:1,z:6,symbol:'triangle',symbolRotate:90,symbolSize:[7,5],itemStyle:{color:'#c62df0',opacity:1},data:exitTriangles},
    {name:'extreme',type:'scatter',xAxisIndex:1,yAxisIndex:1,z:6,symbol:'path://M0 0H6V1H1V6H0Z',symbolSize:5,itemStyle:{color:'#999',opacity:1},
     data:extremes.map(e=>({value:[e[0],e[1]],symbolOffset:[0,e[0]==142?4:-3],label:{show:true,position:'right',distance:5,offset:[0,e[0]==142?4:-3],formatter:e[2],color:'#a8a8a8',fontSize:7.2}}))},
    pnlLine(pnlA,false),pnlLine(pnlB,true),pnlLine(pnlC,false),
    {name:'PnL marks',type:'scatter',xAxisIndex:2,yAxisIndex:2,z:5,symbol:'circle',symbolSize:8,clip:false,
     itemStyle:{color:'#0b8a12',borderColor:'#f08a7a',borderWidth:1,opacity:1},data:pts(pnlExtremes)},
    {name:'Period P&L',type:'bar',xAxisIndex:3,yAxisIndex:3,barWidth:2,
     data:periodPnl.map(p=>({value:[toT(p[0]),p[1]],itemStyle:{color:p[1]>=0?'#98b95c':'#6f5a9e'}}))},
    {name:'Trade Vol',type:'bar',xAxisIndex:4,yAxisIndex:4,barWidth:1.8,z:2,itemStyle:{color:'#f49a50'},data:pts(tradeVol)},
    {name:'Position long',type:'line',xAxisIndex:4,yAxisIndex:4,step:'end',symbol:'none',z:3,connectNulls:false,data:pts(positionLong),
     lineStyle:{color:'#a9adf0',width:1},itemStyle:{color:'#8085e9'},areaStyle:{color:'#8085e9',opacity:0.75}},
    {name:'Position short',type:'line',xAxisIndex:4,yAxisIndex:4,symbol:'none',z:4,data:pts(positionFlat),lineStyle:{color:'#35aad6',width:1.2},itemStyle:{color:'#f15c80'}},
    {name:'Asset utilization',type:'line',xAxisIndex:5,yAxisIndex:5,step:'end',symbol:'none',z:3,data:pts(utilization),
     lineStyle:{color:'#8a7e3e',width:1.2},itemStyle:{color:'#8a7e3e'}}
  ]
});
</script></body></html>
